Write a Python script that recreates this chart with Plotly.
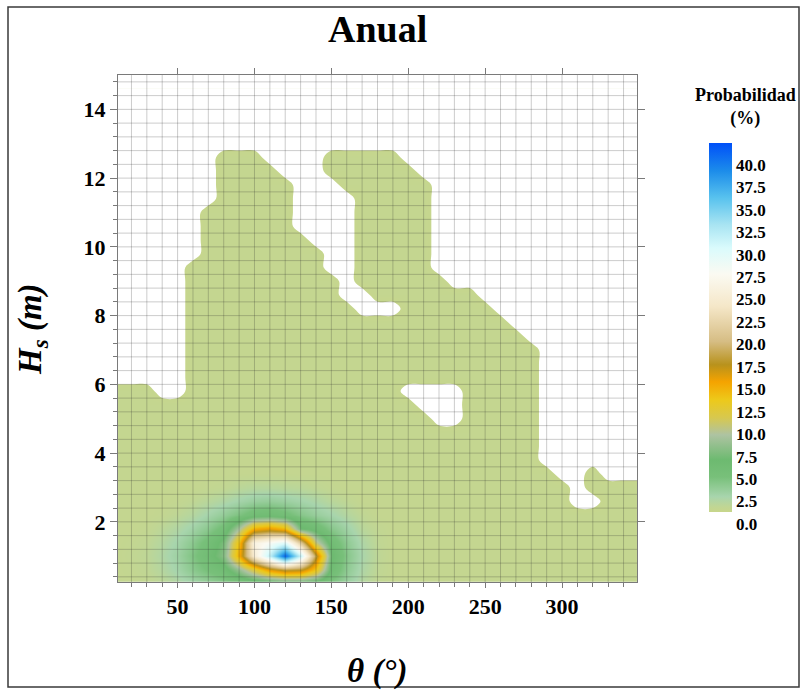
import plotly.graph_objects as go

# Joint distribution grid: mean wave direction (deg) x significant wave height (m)
THETA = [10, 20, 30, 40, 50, 60, 70, 80, 90, 100, 110, 120, 130, 140, 150, 160, 170,
         180, 190, 200, 210, 220, 230, 240, 250, 260, 270, 280, 290, 300, 310, 320,
         330, 340, 350]
HS = [0.2, 0.6, 1.0, 1.4, 1.8, 2.2, 2.6, 3.0, 3.4, 3.8, 4.2, 4.6, 5.0, 5.4, 5.8,
      6.2, 6.6, 7.0, 7.4, 7.8, 8.2, 8.6, 9.0, 9.4, 9.8, 10.2, 10.6, 11.0, 11.4, 11.8,
      12.2, 12.6, 13.0, 13.4, 13.8, 14.2, 14.6]

# Observed ("o") / never observed (".") sea states, one row per Hs, highest Hs first.
# Columns follow THETA (groups of five directions).
OCCURRENCE = [
    "..... ..... ..... ..... ..... ..... .....",  # 14.6
    "..... ..... ..... ..... ..... ..... .....",  # 14.2
    "..... ..... ..... ..... ..... ..... .....",  # 13.8
    "..... ..... ..... ..... ..... ..... .....",  # 13.4
    "..... ..... ..... ..... ..... ..... .....",  # 13.0
    "..... ..ooo ....o oooo. ..... ..... .....",  # 12.6
    "..... ..ooo o...o ooooo ..... ..... .....",  # 12.2
    "..... ..ooo oo... ooooo o.... ..... .....",  # 11.8
    "..... ..ooo oo... .oooo o.... ..... .....",  # 11.4
    "..... .oooo oo... .oooo o.... ..... .....",  # 11.0
    "..... .oooo oo... .oooo o.... ..... .....",  # 10.6
    "..... .oooo ooo.. .oooo o.... ..... .....",  # 10.2
    "..... .oooo oooo. .oooo o.... ..... .....",  # 9.8
    "..... ooooo oooo. .oooo o.... ..... .....",  # 9.4
    "..... ooooo ooooo .oooo oo... ..... .....",  # 9.0
    "..... ooooo ooooo ..ooo oooo. ..... .....",  # 8.6
    "..... ooooo ooooo o...o ooooo ..... .....",  # 8.2
    "..... ooooo ooooo ooooo ooooo o.... .....",  # 7.8
    "..... ooooo ooooo ooooo ooooo oo... .....",  # 7.4
    "..... ooooo ooooo ooooo ooooo ooo.. .....",  # 7.0
    "..... ooooo ooooo ooooo ooooo ooo.. .....",  # 6.6
    "..... ooooo ooooo ooooo ooooo ooo.. .....",  # 6.2
    "ooo.. ooooo ooooo oooo. ...oo ooo.. .....",  # 5.8
    "ooooo ooooo ooooo ooooo ...oo ooo.. .....",  # 5.4
    "ooooo ooooo ooooo ooooo o..oo ooo.. .....",  # 5.0
    "ooooo ooooo ooooo ooooo ooooo ooo.. .....",  # 4.6
    "ooooo ooooo ooooo ooooo ooooo ooo.. .....",  # 4.2
    "ooooo ooooo ooooo ooooo ooooo ooo.. .....",  # 3.8
    "ooooo ooooo ooooo ooooo ooooo oooo. .o...",  # 3.4
    "ooooo ooooo ooooo ooooo ooooo ooooo .oooo",  # 3.0
    "ooooo ooooo ooooo ooooo ooooo ooooo ..ooo",  # 2.6
    "ooooo ooooo ooooo ooooo ooooo ooooo ooooo",  # 2.2
    "ooooo ooooo ooooo ooooo ooooo ooooo ooooo",  # 1.8
    "ooooo ooooo ooooo ooooo ooooo ooooo ooooo",  # 1.4
    "ooooo ooooo ooooo ooooo ooooo ooooo ooooo",  # 1.0
    "ooooo ooooo ooooo ooooo ooooo ooooo ooooo",  # 0.6
    "ooooo ooooo ooooo ooooo ooooo ooooo ooooo",  # 0.2
]

# Probability (%) of the observed sea states away from the main peak
BASE_PROB = 0.3

# Probability (%) around the dominant sea state
PEAK_THETA = [20, 30, 40, 50, 60, 70, 80, 90, 100, 110, 120, 130, 140, 150, 160, 170, 180]
PEAK_HS = [0.2, 0.6, 1.0, 1.4, 1.8, 2.2, 2.6, 3.0]
PEAK_PROB = [
    [0.3, 0.4, 0.7, 1.2, 1.8, 2.4, 3.0, 3.5, 3.8, 3.9, 4.2, 4.3, 4.2, 3.4, 2.2, 1.1, 0.5],
    [0.4, 0.6, 1.1, 1.9, 3.0, 4.0, 5.0, 7.5, 11.0, 15.0, 17.0, 16.5, 12.5, 5.2, 2.8, 1.4, 0.6],
    [0.5, 0.7, 1.3, 2.2, 3.5, 5.0, 7.0, 14.0, 24.0, 31.0, 40.0, 30.0, 17.0, 6.0, 3.2, 1.6, 0.7],
    [0.4, 0.6, 1.1, 1.9, 3.0, 4.5, 6.5, 13.0, 25.0, 27.0, 29.0, 20.0, 9.5, 5.0, 2.8, 1.4, 0.6],
    [0.3, 0.4, 0.8, 1.3, 2.0, 3.0, 4.5, 8.5, 14.0, 15.0, 13.5, 6.0, 5.0, 3.2, 2.0, 0.9, 0.5],
    [0.3, 0.3, 0.4, 0.7, 1.1, 1.8, 2.6, 3.6, 4.8, 5.0, 4.4, 3.2, 2.4, 1.8, 1.1, 0.6, 0.3],
    [0.3, 0.3, 0.3, 0.4, 0.6, 0.9, 1.3, 1.8, 2.3, 2.5, 2.2, 1.8, 1.4, 0.9, 0.6, 0.3, 0.3],
    [0.3, 0.3, 0.3, 0.3, 0.3, 0.4, 0.5, 0.8, 1.0, 1.0, 0.9, 0.8, 0.6, 0.4, 0.3, 0.3, 0.3],
]

# Colour ramp (value in %, colour)
COLOR_STOPS = [
    (0.0, "#c8d68b"), (0.6, "#c0d694"), (1.7, "#a8d5ad"), (3.9, "#78c07a"),
    (5.8, "#6dba70"), (8.6, "#aec3a2"), (10.5, "#d7c84f"), (12.5, "#edc91a"),
    (14.5, "#f5a300"), (16.4, "#b8921c"), (19.0, "#d6bd84"), (22.9, "#f5e7c8"),
    (26.5, "#fbfaf2"), (29.4, "#dafbfc"), (32.0, "#a8e4f2"), (35.0, "#58c2ee"),
    (38.0, "#1c8cea"), (41.1, "#0050f8"),
]
ZMAX = 41.1
CBAR_TICKS = [0, 2.5, 5, 7.5, 10, 12.5, 15, 17.5, 20, 22.5, 25, 27.5, 30, 32.5, 35, 37.5, 40]
X_TICKS = [50, 100, 150, 200, 250, 300]
Y_TICKS = [2, 4, 6, 8, 10, 12, 14]
X_RANGE = [11.25, 348.75]
Y_RANGE = [0.25, 15]
GRID_THETA = list(range(20, 341, 10))
GRID_HS = [round(0.4 * k, 1) for k in range(1, 38)]

SERIF = "Liberation Serif"

# ---- build probability matrix (rows follow HS ascending) ----
rows = [r.replace(" ", "") for r in OCCURRENCE][::-1]
z = [[BASE_PROB if ch == "o" else 0.0 for ch in row] for row in rows]
col_of = {t: j for j, t in enumerate(THETA)}
row_of = {h: i for i, h in enumerate(HS)}
for i, h in enumerate(PEAK_HS):
    for j, t in enumerate(PEAK_THETA):
        z[row_of[h]][col_of[t]] = PEAK_PROB[i][j]

colorscale = [[v / ZMAX, c] for v, c in COLOR_STOPS]
colorscale[-1][0] = 1.0

fig = go.Figure()

# smooth flood of the probability field
fig.add_trace(go.Contour(
    x=THETA, y=HS, z=z,
    contours=dict(coloring="heatmap", showlines=False),
    line=dict(width=0),
    colorscale=colorscale, zmin=0, zmax=ZMAX, zauto=False,
    hoverinfo="skip",
    colorbar=dict(
        x=(709 - 118) / 519, xanchor="left", xpad=0,
        y=(582 - 143) / 507, yanchor="top", ypad=0,
        len=369, lenmode="pixels", thickness=23, thicknessmode="pixels",
        outlinewidth=0, ticks="", ticklen=0,
        tickmode="array", tickvals=CBAR_TICKS,
        ticktext=[f"{v:.1f}" for v in CBAR_TICKS],
        ticklabelposition="outside bottom",
        tickfont=dict(family=SERIF, size=17, color="black", weight="bold"),
    ),
))

# blank out sea states that never occur
fig.add_trace(go.Contour(
    x=THETA, y=HS, z=z,
    contours=dict(type="constraint", operation=">=", value=BASE_PROB / 2),
    fillcolor="white", line=dict(width=0, color="white"),
    showscale=False, hoverinfo="skip",
))

# carrier for the top / right tick axes
fig.add_trace(go.Scatter(x=[None], y=[None], xaxis="x2", yaxis="y2",
                         showlegend=False, hoverinfo="skip"))

# grid drawn over the filled field
path = ""
for t in GRID_THETA:
    path += f"M{t},{Y_RANGE[0]} L{t},{Y_RANGE[1]} "
for h in GRID_HS:
    if Y_RANGE[0] < h < Y_RANGE[1]:
        path += f"M{X_RANGE[0]},{h} L{X_RANGE[1]},{h} "
fig.add_shape(type="path", path=path, xref="x", yref="y", layer="above",
              line=dict(color="rgba(40,40,40,0.24)", width=1))

# outer frame
fig.add_shape(type="rect", xref="paper", yref="paper",
              x0=(8 - 118) / 519, x1=(799 - 118) / 519,
              y0=(582 - 687) / 507, y1=(582 - 7) / 507,
              line=dict(color="#3a3a3a", width=1.5))

axis_col = "#7a7a7a"
tickfont = dict(family=SERIF, size=22, color="black", weight="bold")

fig.update_layout(
    width=801, height=690,
    margin=dict(l=118, r=164, t=75, b=108),
    paper_bgcolor="white", plot_bgcolor="white",
    showlegend=False,
    xaxis=dict(
        range=X_RANGE, tickmode="array", tickvals=X_TICKS,
        ticks="outside", ticklen=5, tickcolor=axis_col,
        minor=dict(tick0=0, dtick=10, ticks="outside", ticklen=4,
                   tickcolor=axis_col, showgrid=False),
        showgrid=False, zeroline=False, showline=True, linecolor=axis_col,
        linewidth=1, mirror=True, tickfont=tickfont,
    ),
    yaxis=dict(
        range=Y_RANGE, tickmode="array", tickvals=Y_TICKS,
        ticks="outside", ticklen=7, tickcolor=axis_col,
        minor=dict(tick0=0, dtick=0.4, ticks="outside", ticklen=4,
                   tickcolor=axis_col, showgrid=False),
        showgrid=False, zeroline=False, showline=True, linecolor=axis_col,
        linewidth=1, mirror=True, tickfont=tickfont,
    ),
    xaxis2=dict(
        overlaying="x", side="top", anchor="y", range=X_RANGE,
        tickmode="array", tickvals=X_TICKS, ticks="outside", ticklen=6,
        tickcolor=axis_col, showticklabels=False, showgrid=False,
        zeroline=False, showline=False,
    ),
    yaxis2=dict(
        overlaying="y", side="right", anchor="x", range=Y_RANGE,
        tickmode="array", tickvals=Y_TICKS, ticks="outside", ticklen=7,
        tickcolor=axis_col, showticklabels=False, showgrid=False,
        zeroline=False, showline=False,
    ),
)


def px_x(x):
    return (x - 118) / 519


def px_y(y):
    return (582 - y) / 507


fig.add_annotation(text="Anual", x=0.5, y=px_y(29), xref="paper", yref="paper",
                   showarrow=False, xanchor="center", yanchor="middle",
                   font=dict(family=SERIF, size=38, color="black", weight="bold"))
fig.add_annotation(text="θ (°)", x=0.5, y=px_y(671), xref="paper", yref="paper",
                   showarrow=False, xanchor="center", yanchor="middle",
                   font=dict(family=SERIF, size=33, color="black", weight="bold",
                             style="italic"))
fig.add_annotation(text="H<sub>s</sub> (m)", x=px_x(32), y=px_y(329),
                   xref="paper", yref="paper", textangle=-90,
                   showarrow=False, xanchor="center", yanchor="middle",
                   font=dict(family=SERIF, size=33, color="black", weight="bold",
                             style="italic"))
fig.add_annotation(text="Probabilidad<br>(%)", x=px_x(745), y=px_y(107),
                   xref="paper", yref="paper", showarrow=False,
                   xanchor="center", yanchor="middle", align="center",
                   font=dict(family=SERIF, size=18, color="black", weight="bold"))

fig.write_html("out.html")
